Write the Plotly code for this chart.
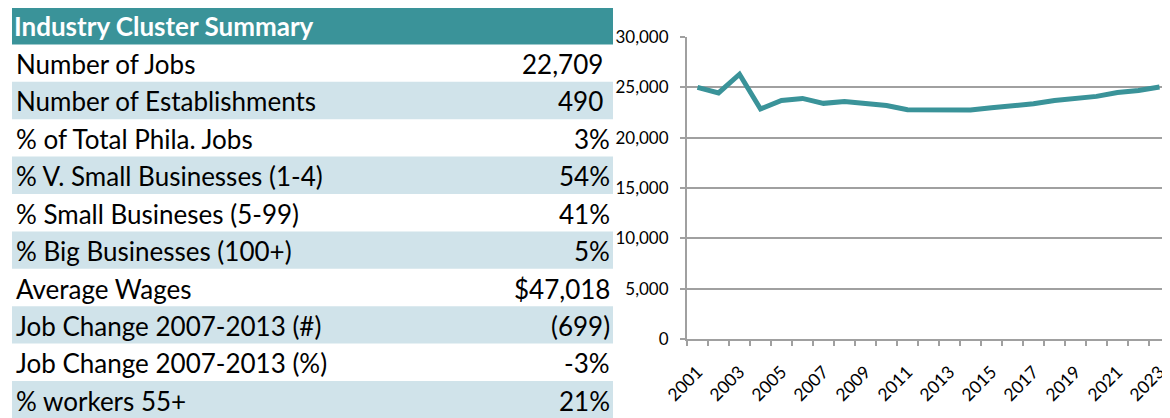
import plotly.graph_objects as go

# ---------------- data ----------------
table_title = "Industry Cluster Summary"
row_labels = [
    "Number of Jobs",
    "Number of Establishments",
    "% of Total Phila. Jobs",
    "% V. Small Businesses (1-4)",
    "% Small Busineses (5-99)",
    "% Big Businesses (100+)",
    "Average Wages",
    "Job Change 2007-2013 (#)",
    "Job Change 2007-2013 (%)",
    "% workers 55+",
]
row_values = ["22,709", "490", "3%", "54%", "41%", "5%", "$47,018", "(699)", "-3%", "21%"]
paren_pad = [True, True, False, False, False, False, False, False, False, False]

years = [2001, 2002, 2003, 2004, 2005, 2006, 2007, 2008, 2009, 2010, 2011, 2012,
         2013, 2014, 2015, 2016, 2017, 2018, 2019, 2020, 2021, 2022, 2023]
jobs = [25000, 24450, 26300, 22850, 23700, 23900, 23408, 23600, 23400, 23200, 22780, 22730,
        22709, 22740, 22980, 23160, 23360, 23700, 23880, 24100, 24480, 24680, 25030]
year_labels = [2001, 2003, 2005, 2007, 2009, 2011, 2013, 2015, 2017, 2019, 2021, 2023]
y_ticks = [0, 5000, 10000, 15000, 20000, 25000, 30000]

# ---------------- style ----------------
WIN_W, WIN_H = 1170, 418
OX, OY = 8, 8            # page body margin offset
W, H = WIN_W - OX, WIN_H - OY
TEAL = "#3A9399"
LIGHT = "#D0E3EA"
GRID = "#A0A0A0"
FONT = "Lato"
TSIZE = 26

tbl_left, tbl_right = 12, 613
tbl_top = 7
row_h = 37.4


def px(x):
    # window x pixel -> paper fraction
    return (x - OX) / W


def py(y):
    # window y pixel -> paper fraction
    return 1 - (y - OY) / H


fig = go.Figure()

fig.add_trace(go.Scatter(
    x=years, y=jobs, mode="lines",
    line=dict(color=TEAL, width=5),
    hoverinfo="skip", showlegend=False,
))

shapes = []
annotations = []

# header band
shapes.append(dict(type="rect", xref="paper", yref="paper",
                   x0=px(tbl_left), x1=px(tbl_right),
                   y0=py(tbl_top + row_h), y1=py(tbl_top),
                   fillcolor=TEAL, line=dict(width=0), layer="below"))
annotations.append(dict(xref="paper", yref="paper", x=px(12), y=py(tbl_top + row_h / 2),
                        xanchor="left", yanchor="middle", showarrow=False,
                        text="<b>" + table_title + "</b>",
                        font=dict(family=FONT, size=TSIZE, color="white")))

for i, (lab, val) in enumerate(zip(row_labels, row_values)):
    top = tbl_top + row_h * (i + 1)
    if i % 2 == 1:
        shapes.append(dict(type="rect", xref="paper", yref="paper",
                           x0=px(tbl_left), x1=px(tbl_right),
                           y0=py(top + row_h), y1=py(top),
                           fillcolor=LIGHT, line=dict(width=0), layer="below"))
    cy = py(top + row_h / 2 + 1)
    annotations.append(dict(xref="paper", yref="paper", x=px(14), y=cy,
                            xanchor="left", yanchor="middle", showarrow=False,
                            text=lab, font=dict(family=FONT, size=TSIZE, color="black")))
    vtxt = val + ('<span style="color:rgba(0,0,0,0)">)</span>' if paren_pad[i] else "")
    annotations.append(dict(xref="paper", yref="paper", x=px(612), y=cy,
                            xanchor="right", yanchor="middle", showarrow=False,
                            text=vtxt, font=dict(family=FONT, size=TSIZE, color="black")))

fig.update_layout(
    width=W, height=H,
    margin=dict(l=0, r=0, t=0, b=0, pad=0),
    paper_bgcolor="white", plot_bgcolor="white",
    shapes=shapes, annotations=annotations,
    xaxis=dict(
        domain=[px(687), 1.0],
        range=[2000.5, 2023.5],
        tickmode="array", tickvals=year_labels,
        ticktext=[str(y) for y in year_labels],
        ticks="", tickangle=-45, ticklabelstandoff=14,
        tickfont=dict(family=FONT, size=17.5, color="black"),
        showgrid=False, zeroline=False, automargin=False,
        showline=True, linecolor=GRID, linewidth=2,
        minor=dict(tickmode="linear", tick0=2000.5, dtick=1, ticks="outside",
                   ticklen=5, tickcolor=GRID, tickwidth=1.5, showgrid=False),
        fixedrange=True,
    ),
    yaxis=dict(
        domain=[py(339), py(37)],
        range=[0, 30000],
        tickmode="array", tickvals=y_ticks,
        tickformat=",d",
        ticks="outside", ticklen=5, tickcolor=GRID, tickwidth=1.5,
        ticklabelstandoff=8,
        tickfont=dict(family=FONT, size=17, color="black"),
        showgrid=True, gridcolor=GRID, gridwidth=1.5,
        zeroline=False, automargin=False,
        showline=True, linecolor=GRID, linewidth=2,
        fixedrange=True,
    ),
)

fig.write_html("out.html")
